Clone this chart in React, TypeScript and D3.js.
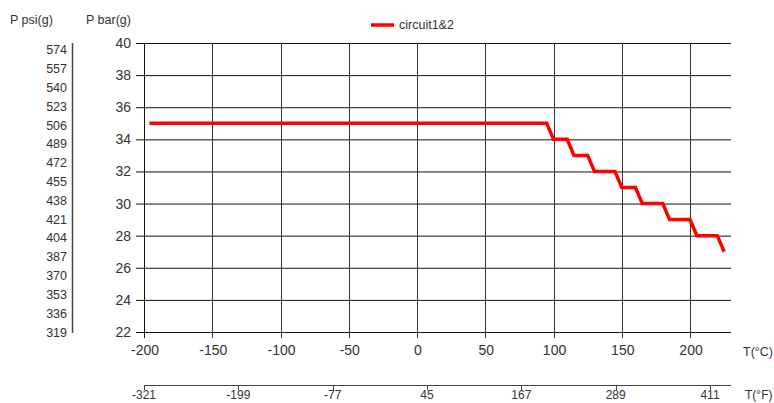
import { useEffect, useRef } from 'react';
import * as d3 from 'd3';

// step curve (temperature °C -> pressure bar)
const tempC = [-196, 95, 100, 110, 115, 125, 130, 145, 150, 160, 165, 180, 185, 200, 205, 220, 225];
const pressureBar = [35, 35, 34, 34, 33, 33, 32, 32, 31, 31, 30, 30, 29, 29, 28, 28, 27];
const seriesName = 'circuit1&2';

const barTicks = [22, 24, 26, 28, 30, 32, 34, 36, 38, 40];
const celsiusTicks = [-200, -150, -100, -50, 0, 50, 100, 150, 200];
const psiTicks = [319, 336, 353, 370, 387, 404, 421, 438, 455, 472, 489, 506, 523, 540, 557, 574];
const fahrenheitTicks = [-321, -199, -77, 45, 167, 289, 411];

const W = 774;
const H = 403;
const FONT = '"Liberation Sans", Arial, sans-serif';

export default function App() {
  const ref = useRef<SVGSVGElement>(null);

  useEffect(() => {
    const svg = d3.select(ref.current);
    svg.selectAll('*').remove();

    const x = d3.scaleLinear().domain([-200, 230]).range([144, 731]);
    const y = d3.scaleLinear().domain([22, 40]).range([332, 43]);
    const psi = d3.scaleLinear().domain([22 * 14.5038, 40 * 14.5038]).range([332, 43]);
    const xF = d3.scaleLinear().domain([-321, 411]).range([144, 710]);

    const g = svg.append('g').style('font-family', FONT).attr('fill', '#333');

    // horizontal grid
    g.append('g')
      .selectAll('line')
      .data(barTicks)
      .join('line')
      .attr('x1', 136)
      .attr('x2', x(230))
      .attr('y1', (d) => y(d) + 0.5)
      .attr('y2', (d) => y(d) + 0.5)
      .attr('stroke', '#111');

    // vertical grid
    g.append('g')
      .selectAll('line')
      .data(celsiusTicks)
      .join('line')
      .attr('x1', (d) => Math.round(x(d)) + 0.5)
      .attr('x2', (d) => Math.round(x(d)) + 0.5)
      .attr('y1', y(40))
      .attr('y2', y(22) + 6)
      .attr('stroke', (d) => (d === -200 ? '#111' : '#333'));

    // bar tick labels
    g.append('g')
      .selectAll('text')
      .data(barTicks)
      .join('text')
      .attr('x', 131)
      .attr('y', (d) => y(d) + 5)
      .attr('text-anchor', 'end')
      .attr('font-size', 14)
      .text((d) => d);

    // celsius tick labels
    g.append('g')
      .selectAll('text')
      .data(celsiusTicks)
      .join('text')
      .attr('x', (d) => x(d) + 1)
      .attr('y', 355)
      .attr('text-anchor', 'middle')
      .attr('font-size', 14)
      .text((d) => d);

    // psi axis
    g.append('line')
      .attr('x1', 72.5)
      .attr('x2', 72.5)
      .attr('y1', 43)
      .attr('y2', 333)
      .attr('stroke', '#444')
      .attr('stroke-width', 1.5);
    g.append('g')
      .selectAll('text')
      .data(psiTicks)
      .join('text')
      .attr('x', 67)
      .attr('y', (d) => psi(d) + 4.5)
      .attr('text-anchor', 'end')
      .attr('font-size', 12.5)
      .text((d) => d);

    // fahrenheit axis
    g.append('line')
      .attr('x1', 144)
      .attr('x2', 731)
      .attr('y1', 385.5)
      .attr('y2', 385.5)
      .attr('stroke', '#444');
    g.append('g')
      .selectAll('line')
      .data(fahrenheitTicks)
      .join('line')
      .attr('x1', (d) => Math.round(xF(d)) + 0.5)
      .attr('x2', (d) => Math.round(xF(d)) + 0.5)
      .attr('y1', 385)
      .attr('y2', 390)
      .attr('stroke', '#444');
    g.append('g')
      .selectAll('text')
      .data(fahrenheitTicks)
      .join('text')
      .attr('x', (d) => xF(d))
      .attr('y', 399)
      .attr('text-anchor', 'middle')
      .attr('font-size', 12)
      .text((d) => d);

    // axis titles
    g.append('text').attr('x', 10).attr('y', 24).attr('font-size', 12.5).text('P psi(g)');
    g.append('text').attr('x', 86).attr('y', 24).attr('font-size', 12.5).text('P bar(g)');
    g.append('text').attr('x', 743).attr('y', 356).attr('font-size', 12.5).text('T(°C)');
    g.append('text').attr('x', 745).attr('y', 399).attr('font-size', 12).text('T(°F)');

    // legend
    g.append('line')
      .attr('x1', 371)
      .attr('x2', 394)
      .attr('y1', 25)
      .attr('y2', 25)
      .attr('stroke', '#f00')
      .attr('stroke-width', 3.5);
    g.append('text').attr('x', 399).attr('y', 29).attr('font-size', 12.5).text(seriesName);

    // series
    const pts = tempC.map((t, i) => [t, pressureBar[i]] as [number, number]);
    const line = d3
      .line<[number, number]>()
      .x((d) => x(d[0]))
      .y((d) => y(d[1]));
    g.append('path')
      .datum(pts)
      .attr('d', line)
      .attr('fill', 'none')
      .attr('stroke', '#f00')
      .attr('stroke-width', 3.5)
      .attr('stroke-linejoin', 'miter');
  }, []);

  return (
    <svg
      ref={ref}
      width={W}
      height={H}
      style={{ position: 'absolute', left: 0, top: 0, background: '#fff' }}
    />
  );
}
